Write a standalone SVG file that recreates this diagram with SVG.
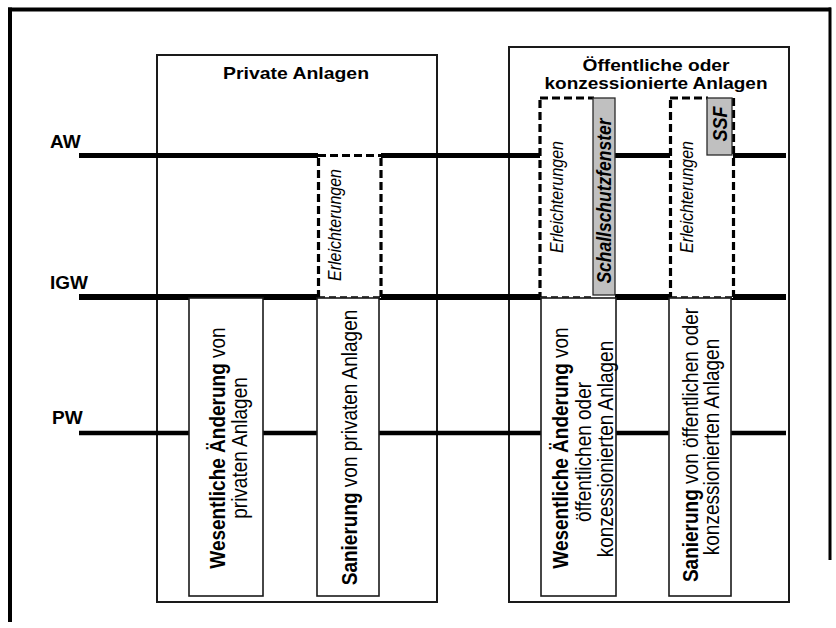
<svg xmlns="http://www.w3.org/2000/svg" width="836" height="628" viewBox="0 0 836 628">
<style>
text{font-family:"Liberation Sans",Arial,Helvetica,sans-serif;fill:#000}
.t{font-size:16.5px;font-weight:bold}
.lbl{font-size:19px;font-weight:bold}
.r{font-size:19px}
.b{font-weight:bold}
.it{font-size:16px;font-style:italic}
.bi{font-weight:bold;font-style:italic}
.outer{fill:none;stroke:#1a1a1a;stroke-width:2}
.inner{fill:#fff;stroke:#1a1a1a;stroke-width:1.6}
.grey{fill:#c0c0c0;stroke:#2a2a2a;stroke-width:1.3}
.dash{fill:none;stroke:#000;stroke-width:3.2;stroke-dasharray:8 4}
.dashthin{fill:none;stroke:#000;stroke-width:1.6;stroke-dasharray:7 4}
.lvl{stroke:#000;fill:none}
</style>
<g id="frame">
<line x1="8" y1="9.5" x2="831" y2="9.5" stroke="#000" stroke-width="4"/>
<line x1="10" y1="7.5" x2="10" y2="622" stroke="#000" stroke-width="4"/>
<line x1="830" y1="7.5" x2="830" y2="560" stroke="#000" stroke-width="3"/>
</g>
<g id="private-anlagen">
<rect class="outer" x="157" y="55" width="280" height="547"/>
<text class="t" x="296" y="79" text-anchor="middle" textLength="146" lengthAdjust="spacingAndGlyphs">Private Anlagen</text>
</g>
<g id="oeffentliche-anlagen">
<rect class="outer" x="509" y="47" width="280" height="555"/>
<text class="t" x="656" y="71" text-anchor="middle" textLength="147" lengthAdjust="spacingAndGlyphs">Öffentliche oder</text>
<text class="t" x="656" y="88.5" text-anchor="middle" textLength="223" lengthAdjust="spacingAndGlyphs">konzessionierte Anlagen</text>
</g>
<g id="connectors">
<line class="lvl" x1="79" y1="155.5" x2="786" y2="155.5" stroke-width="5"/>
<line class="lvl" x1="79" y1="297" x2="786" y2="297" stroke-width="6"/>
<line class="lvl" x1="79" y1="433" x2="786" y2="433" stroke-width="4.5"/>
</g>
<g id="labels">
<text class="lbl" x="50" y="148">AW</text>
<text class="lbl" x="50" y="289">IGW</text>
<text class="lbl" x="52" y="424">PW</text>
</g>
<g id="erleichterungen-privat">
<rect x="318" y="153" width="63" height="145" fill="#fff"/>
<path class="dash" d="M318,155.5 H381" stroke-width="4.5"/>
<path class="dash" d="M318.5,158 V297"/>
<path class="dash" d="M381,158 V297"/>
<path class="dashthin" d="M318,297 H381"/>
<text class="it" transform="translate(341,225) scale(1.15,1) rotate(-90)" text-anchor="middle">Erleichterungen</text>
</g>
<g id="erleichterungen-oeffentlich-1">
<rect x="540" y="97" width="75" height="201" fill="#fff"/>
<path class="dash" d="M540,98 H594"/>
<path class="dash" d="M540,100 V297"/>
<path class="dashthin" d="M540,297 H594"/>
<text class="it" transform="translate(563,197) scale(1.15,1) rotate(-90)" text-anchor="middle">Erleichterungen</text>
</g>
<g id="schallschutzfenster">
<rect class="grey" x="593" y="98" width="22" height="197"/>
<text class="bi" font-size="17.5" transform="translate(611,201) scale(1.12,1) rotate(-90)" text-anchor="middle">Schallschutzfenster</text>
</g>
<g id="erleichterungen-oeffentlich-2">
<rect x="670" y="97" width="63" height="201" fill="#fff"/>
<path class="dash" d="M670,98 H708"/>
<path class="dash" d="M670.5,100 V297"/>
<path class="dash" d="M733.5,98 V297"/>
<path class="dashthin" d="M670,297 H734"/>
<text class="it" transform="translate(693,197) scale(1.15,1) rotate(-90)" text-anchor="middle">Erleichterungen</text>
</g>
<g id="ssf">
<rect class="grey" x="707" y="98" width="25" height="57"/>
<text class="bi" font-size="18" transform="translate(727,124) scale(1.1,1) rotate(-90)" text-anchor="middle">SSF</text>
</g>
<g id="wesentliche-aenderung-privat">
<rect class="inner" x="189" y="298" width="74" height="298"/>
<text class="r" transform="translate(224.5,448) scale(1.15,1) rotate(-90)" text-anchor="middle"><tspan class="b">Wesentliche Änderung</tspan> von</text>
<text class="r" transform="translate(247,448) scale(1.15,1) rotate(-90)" text-anchor="middle">privaten Anlagen</text>
</g>
<g id="sanierung-privat">
<rect class="inner" x="317" y="298" width="62" height="298"/>
<text class="r" transform="translate(357,447.5) scale(1.15,1) rotate(-90)" text-anchor="middle"><tspan class="b">Sanierung</tspan> von privaten Anlagen</text>
</g>
<g id="wesentliche-aenderung-oeffentlich">
<rect class="inner" x="541" y="298" width="75" height="298"/>
<text class="r" transform="translate(568,448) scale(1.15,1) rotate(-90)" text-anchor="middle"><tspan class="b">Wesentliche Änderung</tspan> von</text>
<text class="r" transform="translate(590.5,452) scale(1.15,1) rotate(-90)" text-anchor="middle">öffentlichen oder</text>
<text class="r" transform="translate(613,449) scale(1.15,1) rotate(-90)" text-anchor="middle">konzessionierten Anlagen</text>
</g>
<g id="sanierung-oeffentlich">
<rect class="inner" x="669" y="298" width="62" height="298"/>
<text class="r" transform="translate(698,445) scale(1.15,1) rotate(-90)" text-anchor="middle"><tspan class="b">Sanierung</tspan> von öffentlichen oder</text>
<text class="r" transform="translate(719,447) scale(1.15,1) rotate(-90)" text-anchor="middle">konzessionierten Anlagen</text>
</g>
</svg>
